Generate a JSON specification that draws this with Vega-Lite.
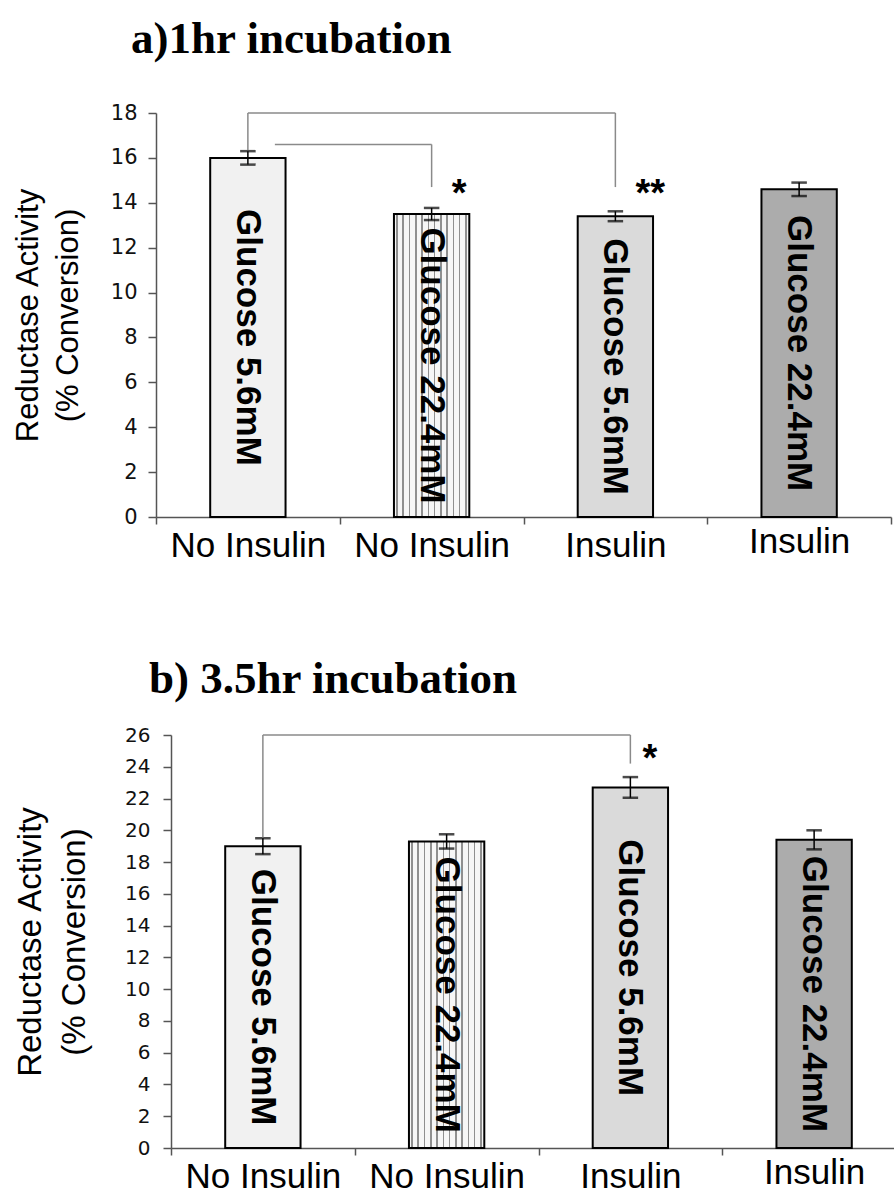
{
  "$schema": "https://vega.github.io/schema/vega-lite/v6.json",
  "background": "white",
  "padding": {"left": 12, "top": 17, "right": 0, "bottom": 0},
  "config": {
    "view": {"stroke": null},
    "font": "Liberation Sans",
    "title": {"font": "Liberation Serif", "fontSize": 45, "fontWeight": "bold", "color": "black", "anchor": "start", "frame": "group"},
    "axisY": {"labelOverlap": false, "labelSeparation": 0}
  },
  "datasets": {
    "bars_1hr": [
      {"treatment": "No Insulin|Glucose 5.6mM", "insulin": "No Insulin", "glucose": "Glucose 5.6mM", "value": 16.0, "sem": 0.3},
      {"treatment": "No Insulin|Glucose 22.4mM", "insulin": "No Insulin", "glucose": "Glucose 22.4mM", "value": 13.5, "sem": 0.27},
      {"treatment": "Insulin|Glucose 5.6mM", "insulin": "Insulin", "glucose": "Glucose 5.6mM", "value": 13.4, "sem": 0.22},
      {"treatment": "Insulin|Glucose 22.4mM", "insulin": "Insulin", "glucose": "Glucose 22.4mM", "value": 14.6, "sem": 0.3}
    ],
    "bars_35hr": [
      {"treatment": "No Insulin|Glucose 5.6mM", "insulin": "No Insulin", "glucose": "Glucose 5.6mM", "value": 19.0, "sem": 0.5},
      {"treatment": "No Insulin|Glucose 22.4mM", "insulin": "No Insulin", "glucose": "Glucose 22.4mM", "value": 19.3, "sem": 0.45},
      {"treatment": "Insulin|Glucose 5.6mM", "insulin": "Insulin", "glucose": "Glucose 5.6mM", "value": 22.7, "sem": 0.65},
      {"treatment": "Insulin|Glucose 22.4mM", "insulin": "Insulin", "glucose": "Glucose 22.4mM", "value": 19.4, "sem": 0.6}
    ],
    "brackets_1hr": [
      {"from": "No Insulin|Glucose 5.6mM", "to": "Insulin|Glucose 5.6mM", "level": 18, "fromEnd": 16.35, "toEnd": 14.7, "label": "**"},
      {"from": "No Insulin|Glucose 5.6mM", "to": "No Insulin|Glucose 22.4mM", "level": 16.6, "fromEnd": null, "toEnd": 14.7, "label": "*"}
    ],
    "brackets_35hr": [
      {"from": "No Insulin|Glucose 5.6mM", "to": "Insulin|Glucose 5.6mM", "level": 26, "fromEnd": 19.55, "toEnd": 24.2, "label": "*"}
    ]
  },
  "spacing": 94,
  "vconcat": [
    {
      "title": {"text": "a)1hr incubation", "dx": -25, "offset": 40},
      "width": 735,
      "height": 404,
      "layer": [
        {
          "layer": [
            {
              "data": {"name": "bars_1hr"},
              "mark": {"type": "bar", "width": {"band": 0.41}, "stroke": "black", "strokeWidth": 2},
              "encoding": {
                "x": {
                  "field": "treatment", "type": "nominal",
                  "scale": {"domain": ["No Insulin|Glucose 5.6mM", "No Insulin|Glucose 22.4mM", "Insulin|Glucose 5.6mM", "Insulin|Glucose 22.4mM"], "paddingInner": 0, "paddingOuter": 0},
                  "axis": {
                    "title": null, "labelExpr": "split(datum.label, '|')[0]", "labelAngle": 0,
                    "labelFontSize": 35, "labelColor": "black",
                    "labelPadding": {"condition": {"test": "datum.value == 'Insulin|Glucose 22.4mM'", "value": 0}, "value": 4},
                    "tickBand": "extent", "tickSize": 7, "tickColor": "#555", "domainColor": "#555", "domainWidth": 1.5, "tickWidth": 1.5
                  }
                },
                "y": {
                  "field": "value", "type": "quantitative",
                  "title": ["Reductase Activity", "(% Conversion)"],
                  "scale": {"domain": [0, 18]},
                  "axis": {
                    "values": [0, 2, 4, 6, 8, 10, 12, 14, 16, 18], "labelOverlap": false,
                    "titleFontSize": 31, "titleFontWeight": "normal", "titleColor": "black", "titleLineHeight": 40, "titlePadding": 26,
                    "labelFont": "DejaVu Sans", "labelFontSize": 21, "labelColor": "#111", "labelPadding": 11,
                    "tickSize": 8, "tickColor": "#555", "domainColor": "#555", "domainWidth": 1.5, "tickWidth": 1.5, "grid": false
                  }
                },
                "fill": {
                  "condition": {
                    "test": "datum.treatment == 'No Insulin|Glucose 22.4mM'",
                    "value": {
                      "gradient": "linear", "x1": 0, "x2": 1, "y1": 0, "y2": 0,
                      "stops": [
                        {"offset": 0, "color": "#f6f6f6"},
                        {"offset": 0.03, "color": "#f6f6f6"}, {"offset": 0.03, "color": "#8f8f8f"}, {"offset": 0.05, "color": "#8f8f8f"}, {"offset": 0.05, "color": "#f6f6f6"},
                        {"offset": 0.113, "color": "#f6f6f6"}, {"offset": 0.113, "color": "#8f8f8f"}, {"offset": 0.133, "color": "#8f8f8f"}, {"offset": 0.133, "color": "#f6f6f6"},
                        {"offset": 0.197, "color": "#f6f6f6"}, {"offset": 0.197, "color": "#8f8f8f"}, {"offset": 0.217, "color": "#8f8f8f"}, {"offset": 0.217, "color": "#f6f6f6"},
                        {"offset": 0.28, "color": "#f6f6f6"}, {"offset": 0.28, "color": "#8f8f8f"}, {"offset": 0.3, "color": "#8f8f8f"}, {"offset": 0.3, "color": "#f6f6f6"},
                        {"offset": 0.363, "color": "#f6f6f6"}, {"offset": 0.363, "color": "#8f8f8f"}, {"offset": 0.383, "color": "#8f8f8f"}, {"offset": 0.383, "color": "#f6f6f6"},
                        {"offset": 0.447, "color": "#f6f6f6"}, {"offset": 0.447, "color": "#8f8f8f"}, {"offset": 0.467, "color": "#8f8f8f"}, {"offset": 0.467, "color": "#f6f6f6"},
                        {"offset": 0.53, "color": "#f6f6f6"}, {"offset": 0.53, "color": "#8f8f8f"}, {"offset": 0.55, "color": "#8f8f8f"}, {"offset": 0.55, "color": "#f6f6f6"},
                        {"offset": 0.613, "color": "#f6f6f6"}, {"offset": 0.613, "color": "#8f8f8f"}, {"offset": 0.633, "color": "#8f8f8f"}, {"offset": 0.633, "color": "#f6f6f6"},
                        {"offset": 0.697, "color": "#f6f6f6"}, {"offset": 0.697, "color": "#8f8f8f"}, {"offset": 0.717, "color": "#8f8f8f"}, {"offset": 0.717, "color": "#f6f6f6"},
                        {"offset": 0.78, "color": "#f6f6f6"}, {"offset": 0.78, "color": "#8f8f8f"}, {"offset": 0.8, "color": "#8f8f8f"}, {"offset": 0.8, "color": "#f6f6f6"},
                        {"offset": 0.863, "color": "#f6f6f6"}, {"offset": 0.863, "color": "#8f8f8f"}, {"offset": 0.883, "color": "#8f8f8f"}, {"offset": 0.883, "color": "#f6f6f6"},
                        {"offset": 0.947, "color": "#f6f6f6"}, {"offset": 0.947, "color": "#8f8f8f"}, {"offset": 0.967, "color": "#8f8f8f"}, {"offset": 0.967, "color": "#f6f6f6"},
                        {"offset": 1, "color": "#f6f6f6"}
                      ]
                    }
                  },
                  "field": "treatment", "type": "nominal",
                  "scale": {"domain": ["No Insulin|Glucose 5.6mM", "No Insulin|Glucose 22.4mM", "Insulin|Glucose 5.6mM", "Insulin|Glucose 22.4mM"], "range": ["#f1f1f1", "#dcdcdc", "#dadada", "#acacac"]},
                  "legend": null
                }
              }
            },
            {
              "data": {"name": "bars_1hr"},
              "mark": {"type": "errorbar", "ticks": {"size": 14, "stroke": "black", "strokeWidth": 1.5}, "rule": {"stroke": "black", "strokeWidth": 1.5}},
              "encoding": {
                "x": {"field": "treatment", "type": "nominal"},
                "y": {"field": "value", "type": "quantitative", "title": ["Reductase Activity", "(% Conversion)"]},
                "yError": {"field": "sem"}
              }
            },
            {
              "data": {"name": "brackets_1hr"},
              "transform": [{"filter": "isValid(datum.fromEnd)"}],
              "mark": {"type": "rule", "color": "#8a8a8a", "strokeWidth": 1.5},
              "encoding": {
                "x": {"field": "from", "type": "nominal"},
                "y": {"field": "fromEnd", "type": "quantitative", "title": ["Reductase Activity", "(% Conversion)"]},
                "y2": {"field": "level"}
              }
            },
            {
              "data": {"name": "brackets_1hr"},
              "mark": {"type": "rule", "color": "#8a8a8a", "strokeWidth": 1.5, "xOffset": {"expr": "isValid(datum.fromEnd) ? 0 : 27"}},
              "encoding": {
                "x": {"field": "from", "type": "nominal"},
                "x2": {"field": "to"},
                "y": {"field": "level", "type": "quantitative", "title": ["Reductase Activity", "(% Conversion)"]}
              }
            },
            {
              "data": {"name": "brackets_1hr"},
              "mark": {"type": "rule", "color": "#8a8a8a", "strokeWidth": 1.5},
              "encoding": {
                "x": {"field": "to", "type": "nominal"},
                "y": {"field": "level", "type": "quantitative", "title": ["Reductase Activity", "(% Conversion)"]},
                "y2": {"field": "toEnd"}
              }
            },
            {
              "data": {"name": "brackets_1hr"},
              "mark": {"type": "text", "align": "left", "baseline": "alphabetic", "dx": 20, "dy": 19, "fontSize": 38, "fontWeight": "bold", "color": "black"},
              "encoding": {
                "x": {"field": "to", "type": "nominal"},
                "y": {"field": "toEnd", "type": "quantitative", "title": ["Reductase Activity", "(% Conversion)"]},
                "text": {"field": "label"}
              }
            }
          ]
        },
        {
          "data": {"name": "bars_1hr"},
          "mark": {"type": "text", "angle": 90, "align": "center", "baseline": "middle", "fontSize": 35, "fontWeight": "bold", "color": "black"},
          "encoding": {
            "x": {"field": "treatment", "type": "nominal"},
            "y": {"field": "value", "type": "quantitative", "scale": {"domain": [0, 36]}, "axis": null},
            "text": {"field": "glucose"}
          }
        }
      ],
      "resolve": {"scale": {"y": "independent"}}
    },
    {
      "title": {"text": "b) 3.5hr incubation", "dx": -7, "offset": 23},
      "width": 750,
      "height": 413,
      "layer": [
        {
          "layer": [
            {
              "data": {"name": "bars_35hr"},
              "mark": {"type": "bar", "width": {"band": 0.41}, "stroke": "black", "strokeWidth": 2},
              "encoding": {
                "x": {
                  "field": "treatment", "type": "nominal",
                  "scale": {"domain": ["No Insulin|Glucose 5.6mM", "No Insulin|Glucose 22.4mM", "Insulin|Glucose 5.6mM", "Insulin|Glucose 22.4mM"], "range": [15, 750], "paddingInner": 0, "paddingOuter": 0},
                  "axis": {
                    "title": null, "labelExpr": "split(datum.label, '|')[0]", "labelAngle": 0,
                    "labelFontSize": 35, "labelColor": "black",
                    "labelPadding": {"condition": {"test": "datum.value == 'Insulin|Glucose 22.4mM'", "value": 0}, "value": 4},
                    "tickBand": "extent", "tickSize": 7, "tickColor": "#555", "domainColor": "#555", "domainWidth": 1.5, "tickWidth": 1.5
                  }
                },
                "y": {
                  "field": "value", "type": "quantitative",
                  "title": ["Reductase Activity", "(% Conversion)"],
                  "scale": {"domain": [0, 26]},
                  "axis": {
                    "tickCount": 13, "labelOverlap": false, "offset": -15,
                    "titleFontSize": 33, "titleFontWeight": "normal", "titleColor": "black", "titleLineHeight": 44, "titlePadding": 33,
                    "labelFont": "DejaVu Sans", "labelFontSize": 20, "labelColor": "#111", "labelPadding": 13,
                    "tickSize": 8, "tickColor": "#555", "domainColor": "#555", "domainWidth": 1.5, "tickWidth": 1.5, "grid": false
                  }
                },
                "fill": {
                  "condition": {
                    "test": "datum.treatment == 'No Insulin|Glucose 22.4mM'",
                    "value": {
                      "gradient": "linear", "x1": 0, "x2": 1, "y1": 0, "y2": 0,
                      "stops": [
                        {"offset": 0, "color": "#f6f6f6"},
                        {"offset": 0.03, "color": "#f6f6f6"}, {"offset": 0.03, "color": "#8f8f8f"}, {"offset": 0.05, "color": "#8f8f8f"}, {"offset": 0.05, "color": "#f6f6f6"},
                        {"offset": 0.113, "color": "#f6f6f6"}, {"offset": 0.113, "color": "#8f8f8f"}, {"offset": 0.133, "color": "#8f8f8f"}, {"offset": 0.133, "color": "#f6f6f6"},
                        {"offset": 0.197, "color": "#f6f6f6"}, {"offset": 0.197, "color": "#8f8f8f"}, {"offset": 0.217, "color": "#8f8f8f"}, {"offset": 0.217, "color": "#f6f6f6"},
                        {"offset": 0.28, "color": "#f6f6f6"}, {"offset": 0.28, "color": "#8f8f8f"}, {"offset": 0.3, "color": "#8f8f8f"}, {"offset": 0.3, "color": "#f6f6f6"},
                        {"offset": 0.363, "color": "#f6f6f6"}, {"offset": 0.363, "color": "#8f8f8f"}, {"offset": 0.383, "color": "#8f8f8f"}, {"offset": 0.383, "color": "#f6f6f6"},
                        {"offset": 0.447, "color": "#f6f6f6"}, {"offset": 0.447, "color": "#8f8f8f"}, {"offset": 0.467, "color": "#8f8f8f"}, {"offset": 0.467, "color": "#f6f6f6"},
                        {"offset": 0.53, "color": "#f6f6f6"}, {"offset": 0.53, "color": "#8f8f8f"}, {"offset": 0.55, "color": "#8f8f8f"}, {"offset": 0.55, "color": "#f6f6f6"},
                        {"offset": 0.613, "color": "#f6f6f6"}, {"offset": 0.613, "color": "#8f8f8f"}, {"offset": 0.633, "color": "#8f8f8f"}, {"offset": 0.633, "color": "#f6f6f6"},
                        {"offset": 0.697, "color": "#f6f6f6"}, {"offset": 0.697, "color": "#8f8f8f"}, {"offset": 0.717, "color": "#8f8f8f"}, {"offset": 0.717, "color": "#f6f6f6"},
                        {"offset": 0.78, "color": "#f6f6f6"}, {"offset": 0.78, "color": "#8f8f8f"}, {"offset": 0.8, "color": "#8f8f8f"}, {"offset": 0.8, "color": "#f6f6f6"},
                        {"offset": 0.863, "color": "#f6f6f6"}, {"offset": 0.863, "color": "#8f8f8f"}, {"offset": 0.883, "color": "#8f8f8f"}, {"offset": 0.883, "color": "#f6f6f6"},
                        {"offset": 0.947, "color": "#f6f6f6"}, {"offset": 0.947, "color": "#8f8f8f"}, {"offset": 0.967, "color": "#8f8f8f"}, {"offset": 0.967, "color": "#f6f6f6"},
                        {"offset": 1, "color": "#f6f6f6"}
                      ]
                    }
                  },
                  "field": "treatment", "type": "nominal",
                  "scale": {"domain": ["No Insulin|Glucose 5.6mM", "No Insulin|Glucose 22.4mM", "Insulin|Glucose 5.6mM", "Insulin|Glucose 22.4mM"], "range": ["#f1f1f1", "#dcdcdc", "#dadada", "#acacac"]},
                  "legend": null
                }
              }
            },
            {
              "data": {"name": "bars_35hr"},
              "mark": {"type": "errorbar", "ticks": {"size": 14, "stroke": "black", "strokeWidth": 1.5}, "rule": {"stroke": "black", "strokeWidth": 1.5}},
              "encoding": {
                "x": {"field": "treatment", "type": "nominal"},
                "y": {"field": "value", "type": "quantitative", "title": ["Reductase Activity", "(% Conversion)"]},
                "yError": {"field": "sem"}
              }
            },
            {
              "data": {"name": "brackets_35hr"},
              "transform": [{"filter": "isValid(datum.fromEnd)"}],
              "mark": {"type": "rule", "color": "#8a8a8a", "strokeWidth": 1.5},
              "encoding": {
                "x": {"field": "from", "type": "nominal"},
                "y": {"field": "fromEnd", "type": "quantitative", "title": ["Reductase Activity", "(% Conversion)"]},
                "y2": {"field": "level"}
              }
            },
            {
              "data": {"name": "brackets_35hr"},
              "mark": {"type": "rule", "color": "#8a8a8a", "strokeWidth": 1.5},
              "encoding": {
                "x": {"field": "from", "type": "nominal"},
                "x2": {"field": "to"},
                "y": {"field": "level", "type": "quantitative", "title": ["Reductase Activity", "(% Conversion)"]}
              }
            },
            {
              "data": {"name": "brackets_35hr"},
              "mark": {"type": "rule", "color": "#8a8a8a", "strokeWidth": 1.5},
              "encoding": {
                "x": {"field": "to", "type": "nominal"},
                "y": {"field": "level", "type": "quantitative", "title": ["Reductase Activity", "(% Conversion)"]},
                "y2": {"field": "toEnd"}
              }
            },
            {
              "data": {"name": "brackets_35hr"},
              "mark": {"type": "text", "align": "left", "baseline": "alphabetic", "dx": 12, "dy": 7, "fontSize": 38, "fontWeight": "bold", "color": "black"},
              "encoding": {
                "x": {"field": "to", "type": "nominal"},
                "y": {"field": "toEnd", "type": "quantitative", "title": ["Reductase Activity", "(% Conversion)"]},
                "text": {"field": "label"}
              }
            }
          ]
        },
        {
          "data": {"name": "bars_35hr"},
          "mark": {"type": "text", "angle": 90, "align": "center", "baseline": "middle", "fontSize": 35, "fontWeight": "bold", "color": "black"},
          "encoding": {
            "x": {"field": "treatment", "type": "nominal"},
            "y": {"field": "value", "type": "quantitative", "scale": {"domain": [0, 52]}, "axis": null},
            "text": {"field": "glucose"}
          }
        }
      ],
      "resolve": {"scale": {"y": "independent"}}
    }
  ]
}
